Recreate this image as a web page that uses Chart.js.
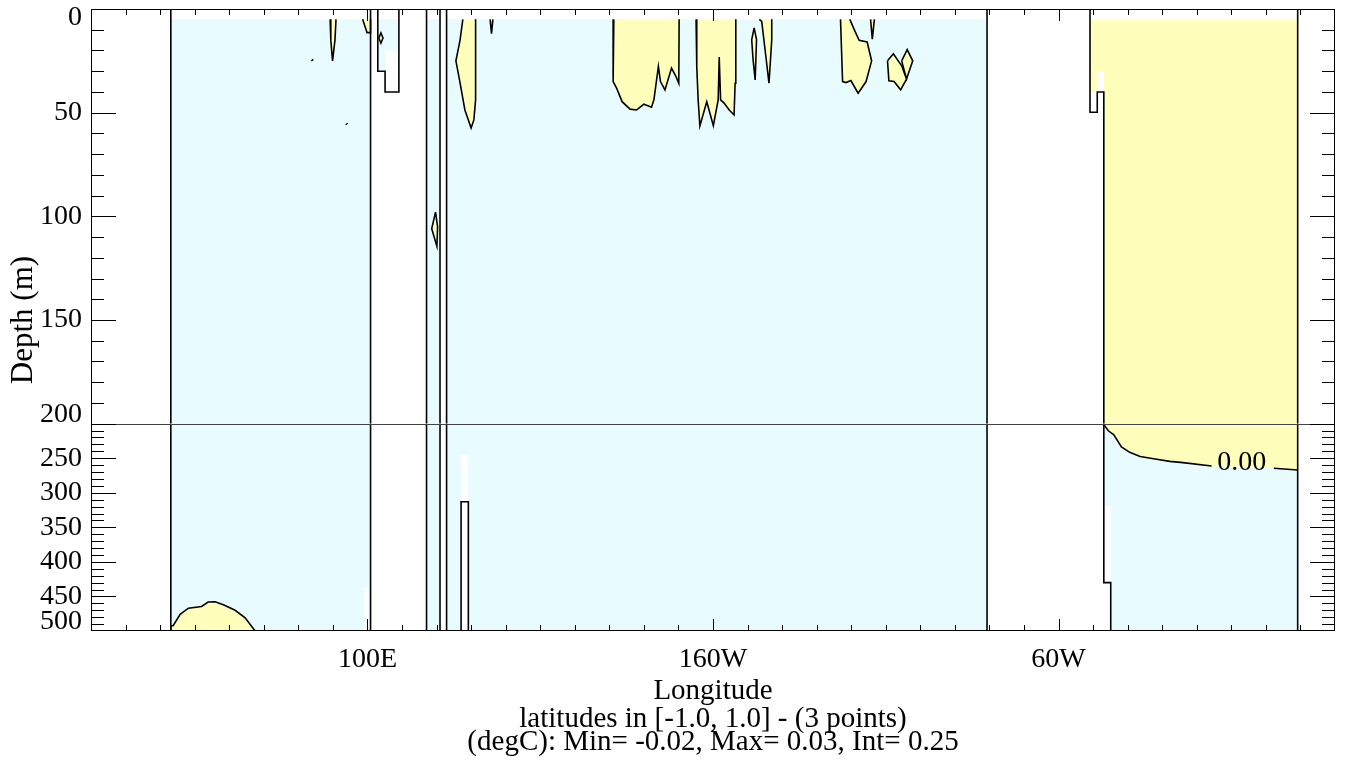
<!DOCTYPE html>
<html>
<head>
<meta charset="utf-8">
<script src="https://cdn.jsdelivr.net/npm/chart.js@4.4.0/dist/chart.umd.min.js"></script>
<style>
  body { margin: 0; background: #fff; }
  canvas { display: block; }
</style>
</head>
<body>
<canvas id="section" width="1347" height="762" style="width:1347px;height:762px"></canvas>
<script>
// points are [longitude (deg E, 20..380), depth (m)]
const lonTickValues = [100, 200, 300];
const lonTickLabels = ['100E', '160W', '60W'];
const depthTopTicks = [0, 50, 100, 150, 200];
const depthBotTicks = [250, 300, 350, 400, 450, 500];

// ocean (cyan) areas, 0-200 m
const oceanTop = [
  [[43.1, 5], [100.9, 5], [100.9, 200], [43.1, 200]],
  [[103.0, 5], [109.1, 5], [109.1, 20], [105.1, 20], [105.1, 30], [103.0, 30]],
  [[117.1, 5], [121.0, 5], [121.0, 200], [117.1, 200]],
  [[122.9, 5], [279.3, 5], [279.3, 200], [122.9, 200]]
];
// ocean areas, 200-500 m
const oceanBot = [
  [[43.1, 200], [100.9, 200], [100.9, 500], [43.1, 500]],
  [[117.1, 200], [121.0, 200], [121.0, 500], [117.1, 500]],
  [[122.9, 200], [279.3, 200], [279.3, 500], [122.9, 500]],
  [[313.1, 200], [369.2, 200], [369.2, 500], [313.1, 500]]
];
// missing data below the last level (white)
const noDataBot = [
  [[99.1, 437], [100.3, 437], [100.3, 500], [99.1, 500]],
  [[127.1, 245], [129.2, 245], [129.2, 500], [127.1, 500]],
  [[313.1, 319], [315.1, 319], [315.1, 500], [313.1, 500]]
];

// positive anomaly (yellow) patches outlined by the 0.00 contour
const warmTop = [
  [[89.2, 5], [89.4, 15], [89.9, 25], [90.6, 15], [90.9, 5]],
  [[98.6, 5], [99.9, 11.4], [100.9, 11.4], [100.9, 5]],
  [[103.3, 14], [103.9, 11.5], [104.5, 14], [103.9, 16.5], [103.3, 14]],
  [[119.7, 98], [118.6, 106], [120.1, 114.5], [120.3, 105], [119.7, 98]],
  [[127.6, 5], [126.8, 15], [125.6, 25], [126.8, 35.6], [128.2, 48.7], [130.0, 57.4], [130.8, 53.5], [131.3, 43.8], [131.4, 27.7], [131.2, 5]],
  [[135.5, 5], [135.9, 11.9], [136.3, 5]],
  [[171.3, 5], [171.1, 35.0], [172.1, 38.2], [173.7, 44.7], [176.0, 48.3], [177.9, 48.7], [180.0, 45.9], [182.2, 47.4], [182.9, 43.8], [184.2, 27.7], [184.8, 35.0], [186.1, 39.0], [188.0, 28.5], [189.3, 32.6], [190.1, 35.8], [190.2, 5]],
  [[195.1, 5], [195.3, 27.7], [195.7, 43.8], [196.2, 56.4], [198.2, 44.7], [200.1, 56.3], [201.5, 43.8], [201.8, 23.2], [202.2, 43.8], [203.2, 45.4], [204.7, 48.7], [206.1, 51.1], [206.4, 35.8], [206.6, 5]],
  [[211.9, 9.1], [212.6, 14.8], [212.2, 34.2], [211.6, 24.5], [211.2, 14.8], [211.9, 9.1]],
  [[213.4, 5], [214.1, 6], [214.5, 11.6], [215.3, 22.9], [216.2, 35.8], [217.0, 14.8], [217.0, 5]],
  [[236.9, 5], [237.5, 35.0], [238.5, 35.5], [239.9, 34.5], [242.0, 40.6], [244.3, 35.0], [245.9, 25.0], [244.6, 15.9], [242.3, 15.1], [241.1, 10.8], [239.6, 5]],
  [[245.6, 5], [246.1, 14.5], [246.7, 5]],
  [[250.5, 25], [252.2, 21.6], [254.6, 27.4], [256.0, 33.8], [254.3, 39.0], [252.4, 35.0], [250.9, 34.6], [250.5, 25]],
  [[254.6, 25], [256.2, 19.6], [257.8, 25], [256.0, 33.8], [254.6, 25]]
];
const warmBot = [
  [[43.1, 500], [43.1, 493], [43.8, 492], [45.8, 476], [48.2, 467], [52.0, 464.5], [53.9, 458], [55.9, 457.7], [58.3, 462], [61.7, 470], [64.6, 481], [67.5, 500]]
];
// Atlantic warm water, bounded by coast and the 0.00 contour
const atlWarmTop = [[309.1, 5], [369.2, 5], [369.2, 200], [313.1, 200], [313.1, 30], [311.2, 30], [311.2, 40], [309.1, 40]];
const atlWarmBot = [[313.1, 200], [369.2, 200], [369.2, 267], [362.3, 264.5], [353.0, 263], [344.3, 261.2], [336.0, 256.4], [332.2, 254.5], [328.4, 251.6], [323.6, 247.4], [320.6, 241.5], [318.2, 233.7], [316.0, 216.2], [314.4, 210.3], [313.1, 201.4]];
const atlZeroBot = [
  [[313.1, 201.4], [314.4, 210.3], [316.0, 216.2], [318.2, 233.7], [320.6, 241.5], [323.6, 247.4], [328.4, 251.6], [332.2, 254.5], [336.0, 256.4], [344.3, 261.2]],
  [[362.3, 264.5], [369.2, 267]]
];
const zeroLabel = [353.0, 257];
const dotsTop = [[[83.9, 24.4], [84.2, 24.9]], [[93.9, 55.2], [94.1, 55.7]]];

// land / sea boundaries
const coastTop = [
  [[43.1, 0], [43.1, 200]],
  [[100.9, 0], [100.9, 200]],
  [[103.0, 0], [103.0, 30], [105.1, 30], [105.1, 40], [109.1, 40], [109.1, 0]],
  [[117.1, 0], [117.1, 200]],
  [[121.0, 0], [121.0, 200]],
  [[122.9, 0], [122.9, 200]],
  [[279.3, 0], [279.3, 200]],
  [[309.1, 0], [309.1, 49.8], [311.2, 49.8], [311.2, 40], [313.1, 40], [313.1, 200]],
  [[369.2, 0], [369.2, 200]]
];
const coastBot = [
  [[43.1, 200], [43.1, 500]],
  [[100.9, 200], [100.9, 500]],
  [[117.1, 200], [117.1, 500]],
  [[121.0, 200], [121.0, 500]],
  [[122.9, 200], [122.9, 500]],
  [[127.1, 500], [127.1, 313], [129.2, 313], [129.2, 500]],
  [[279.3, 200], [279.3, 500]],
  [[313.1, 200], [313.1, 430], [315.1, 430], [315.1, 500]],
  [[369.2, 200], [369.2, 500]]
];

const CYAN = '#e8fcff', YELLOW = '#ffffbb';

function pts(arr) {
    return arr.map(p => ({ x: p[0], y: p[1] }));
}

function area(arr, axis, color, order, stroke) {
    return {
        data: pts(arr),
        yAxisID: axis,
        fill: 'shape',
        backgroundColor: color,
        borderColor: stroke ? '#000' : 'transparent',
        borderWidth: stroke ? 1.6 : 0,
        pointRadius: 0,
        tension: 0,
        order: order
    };
}

function line(arr, axis, width) {
    return {
        data: pts(arr),
        yAxisID: axis,
        fill: false,
        borderColor: '#000',
        borderWidth: width || 1.6,
        pointRadius: 0,
        tension: 0,
        order: 1
    };
}

const datasets = [];
oceanTop.forEach(a => datasets.push(area(a, 'yTop', CYAN, 6)));
oceanBot.forEach(a => datasets.push(area(a, 'yBot', CYAN, 6)));
noDataBot.forEach(a => datasets.push(area(a, 'yBot', '#ffffff', 5)));
datasets.push(area(atlWarmTop, 'yTop', YELLOW, 4));
datasets.push(area(atlWarmBot, 'yBot', YELLOW, 4));
warmTop.forEach(a => datasets.push(area(a, 'yTop', YELLOW, 3, true)));
warmBot.forEach(a => datasets.push(area(a, 'yBot', YELLOW, 3, true)));
atlZeroBot.forEach(a => datasets.push(line(a, 'yBot')));
dotsTop.forEach(a => datasets.push(line(a, 'yTop', 2.5)));
coastTop.forEach(a => datasets.push(line(a, 'yTop')));
coastBot.forEach(a => datasets.push(line(a, 'yBot')));

const SERIF = '"Liberation Serif", "Times New Roman", serif';

// IDL style frame: inward ticks on all four sides, labels and titles
const idlFrame = {
    id: 'idlFrame',
    afterDraw(chart) {
        const { ctx, chartArea: a } = chart;
        const sx = chart.scales.x, st = chart.scales.yTop, sb = chart.scales.yBot;
        const seg = (x0, y0, x1, y1) => { ctx.beginPath(); ctx.moveTo(x0, y0); ctx.lineTo(x1, y1); ctx.stroke(); };
        ctx.save();
        ctx.lineWidth = 1;

        const yBreak = Math.round(st.getPixelForValue(200)) + 0.5;
        ctx.strokeStyle = '#444';
        seg(a.left, yBreak, a.right, yBreak);

        ctx.strokeStyle = '#000';
        ctx.strokeRect(a.left + 0.5, a.top + 0.5, a.right - a.left - 1, a.bottom - a.top - 1);

        for (let v = 30; v < 380; v += 10) {
            const px = Math.round(sx.getPixelForValue(v)) + 0.5;
            const len = lonTickValues.includes(v) ? 12 : 6;
            seg(px, a.bottom, px, a.bottom - len);
            seg(px, a.top, px, a.top + len);
        }
        const depthTicks = (scale, from, to, majors) => {
            for (let v = from; v <= to; v += 10) {
                const py = Math.round(scale.getPixelForValue(v)) + 0.5;
                const len = majors.includes(v) ? 25 : 13;
                seg(a.left, py, a.left + len, py);
                seg(a.right, py, a.right - len, py);
            }
        };
        depthTicks(st, 10, 200, depthTopTicks);
        depthTicks(sb, 210, 490, depthBotTicks);

        ctx.fillStyle = '#000';
        ctx.font = '28px ' + SERIF;
        ctx.textAlign = 'right';
        ctx.textBaseline = 'middle';
        const depthLabel = (scale, v) => {
            let py = scale.getPixelForValue(v);
            py = Math.min(Math.max(py, scale.top + 9), scale.bottom - 9);
            ctx.fillText(String(v), a.left - 9, py);
        };
        depthTopTicks.forEach(v => depthLabel(st, v));
        depthBotTicks.forEach(v => depthLabel(sb, v));

        ctx.textAlign = 'center';
        ctx.textBaseline = 'alphabetic';
        lonTickValues.forEach((v, i) => ctx.fillText(lonTickLabels[i], sx.getPixelForValue(v), a.bottom + 36));

        ctx.textBaseline = 'middle';
        ctx.fillText('0.00', sx.getPixelForValue(zeroLabel[0]), sb.getPixelForValue(zeroLabel[1]));

        ctx.font = '29px ' + SERIF;
        ctx.textBaseline = 'alphabetic';
        const cx = (a.left + a.right) / 2;
        ctx.fillText('Longitude', cx, a.bottom + 68);
        ctx.fillText('latitudes in [-1.0, 1.0] - (3 points)', cx, a.bottom + 96);
        ctx.fillText('(degC): Min= -0.02, Max= 0.03, Int= 0.25', cx, a.bottom + 119);

        ctx.font = '31px ' + SERIF;
        ctx.translate(32, (a.top + a.bottom) / 2);
        ctx.rotate(-Math.PI / 2);
        ctx.fillText('Depth (m)', 0, 0);
        ctx.restore();
    }
};

new Chart(document.getElementById('section').getContext('2d'), {
    type: 'line',
    data: { datasets: datasets },
    plugins: [idlFrame],
    options: {
        responsive: false,
        animation: false,
        events: [],
        layout: { padding: { left: 91, right: 12, top: 9, bottom: 131 } },
        plugins: { legend: { display: false }, tooltip: { enabled: false } },
        scales: {
            x: { type: 'linear', min: 20, max: 380, display: false },
            yBot: { type: 'linear', min: 200, max: 500, reverse: true, display: false, stack: 'depth', stackWeight: 1 },
            yTop: { type: 'linear', min: 0, max: 200, reverse: true, display: false, stack: 'depth', stackWeight: 2 }
        }
    }
});
</script>
</body>
</html>
